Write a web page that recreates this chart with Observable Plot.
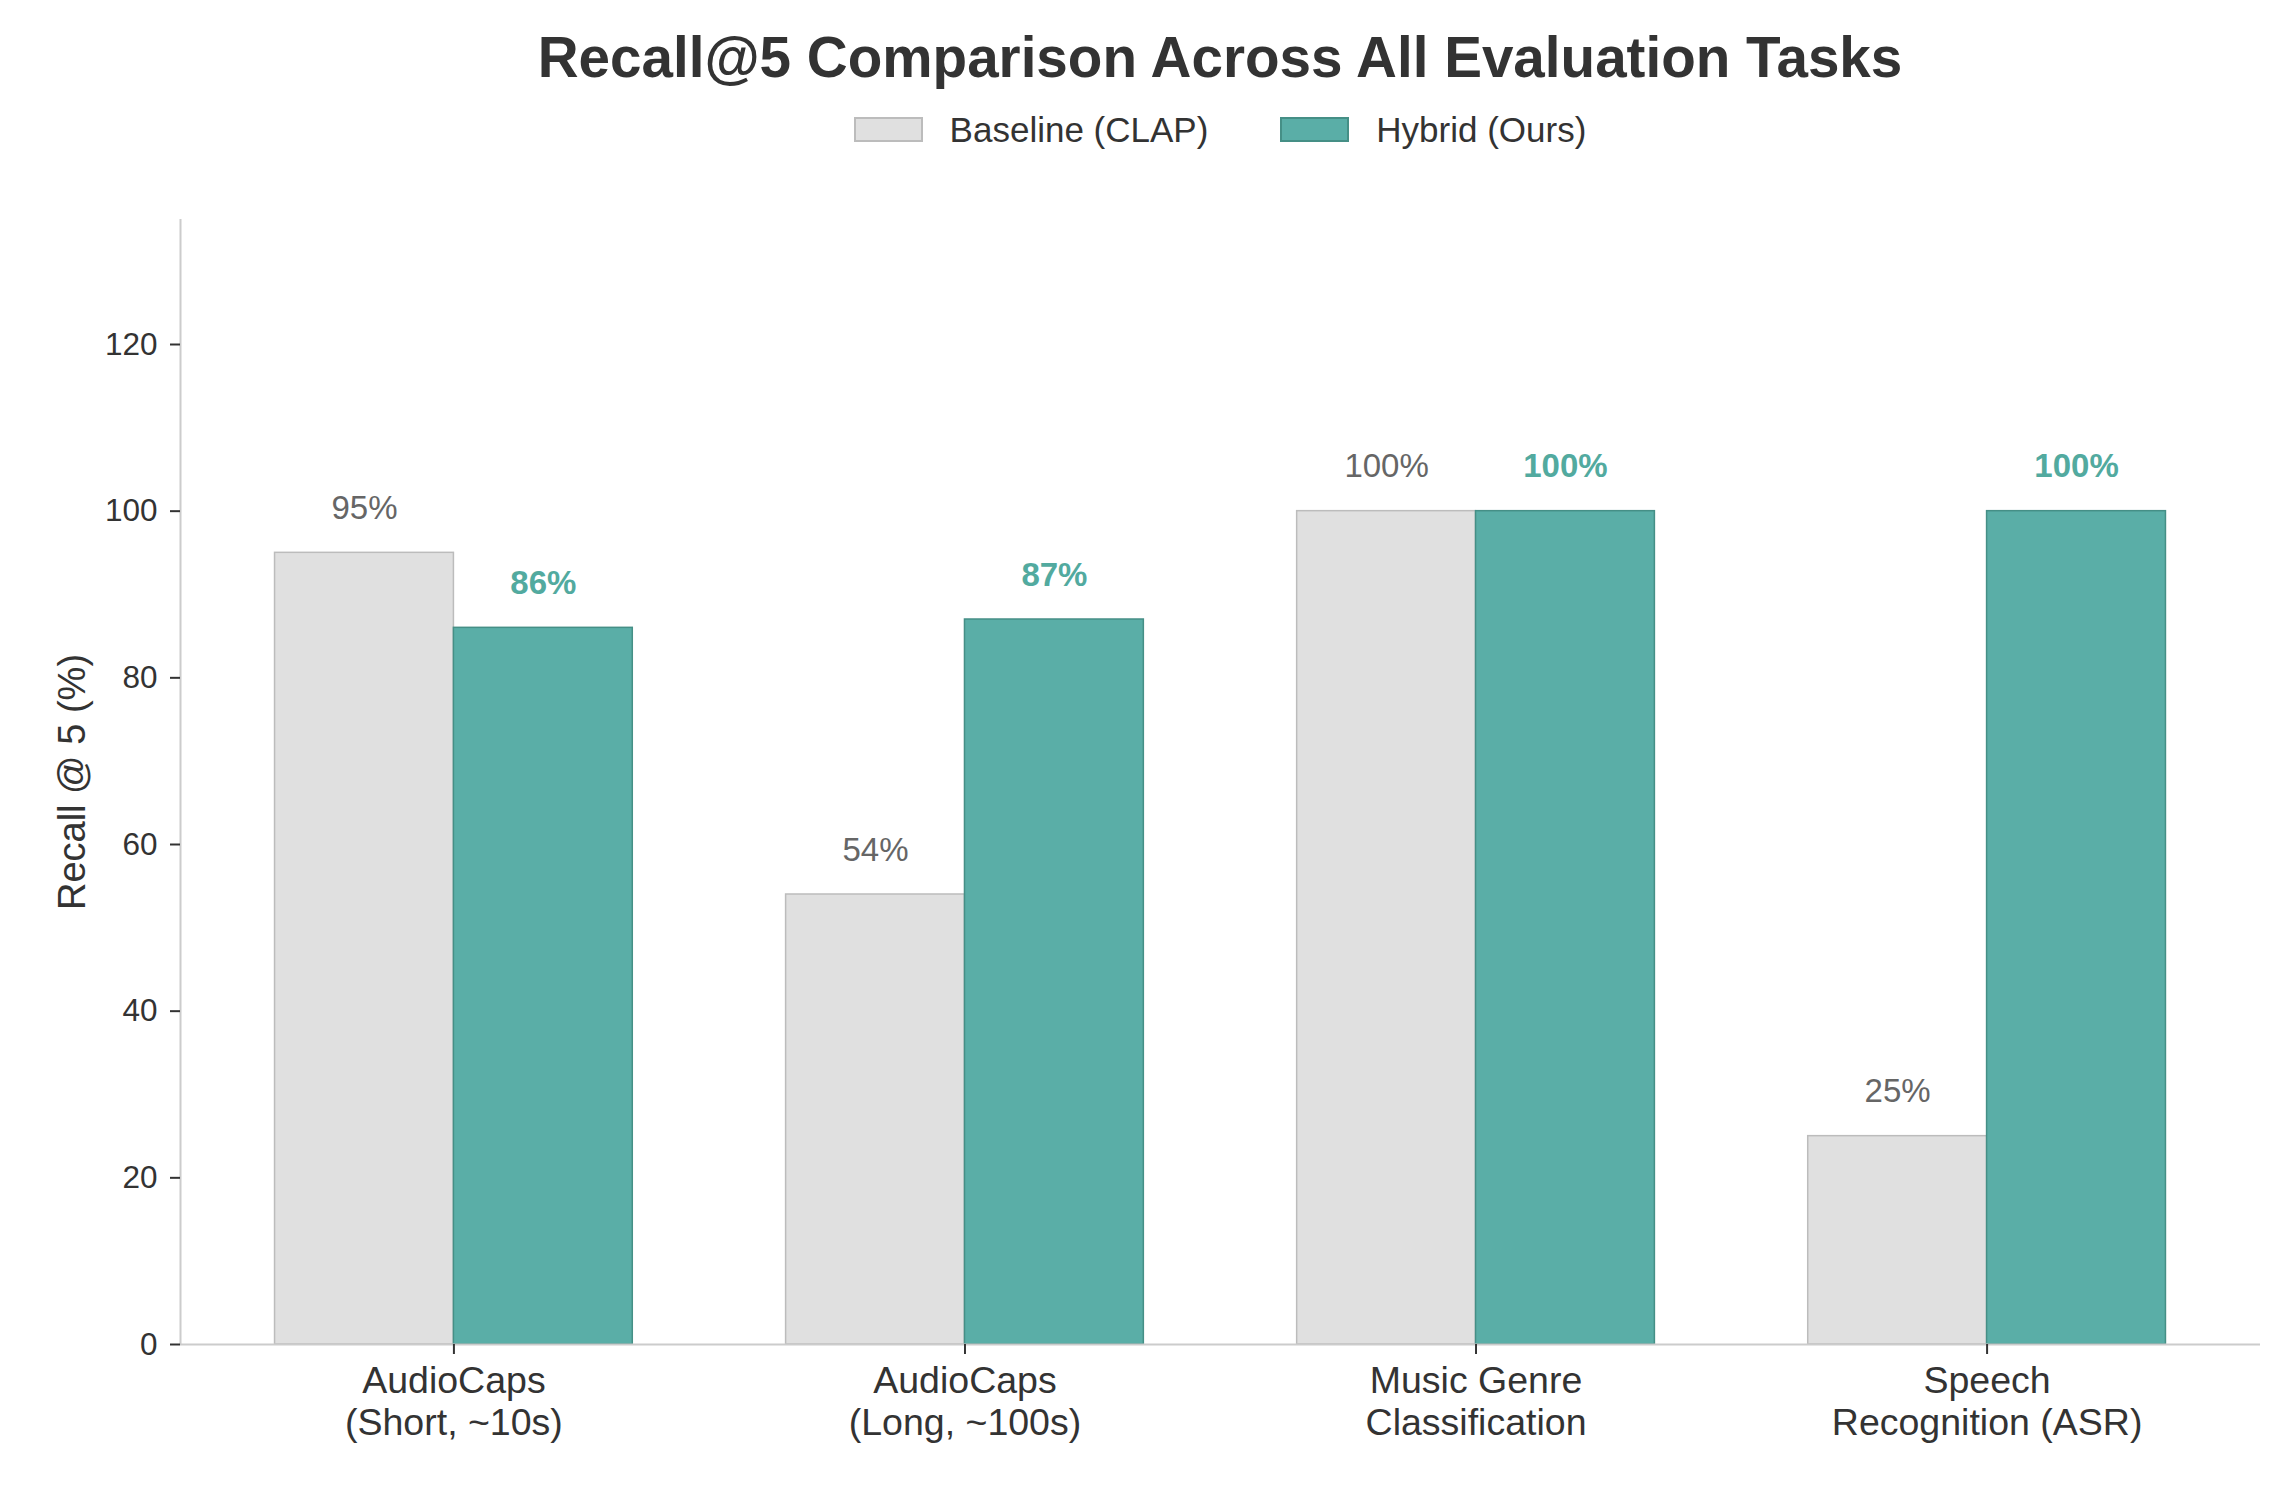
<!DOCTYPE html>
<html>
<head>
<meta charset="utf-8">
<script src="https://cdn.jsdelivr.net/npm/d3@7"></script>
<script src="https://cdn.jsdelivr.net/npm/@observablehq/plot@0.6"></script>
<style>
  html, body { margin: 0; padding: 0; background: #fff; }
  body { width: 2294px; height: 1508px; overflow: hidden; font-family: "Liberation Sans", Arial, sans-serif; }
  #header { position: relative; width: 2294px; height: 180px; }
  #title { position: absolute; left: 146px; right: 0; top: 30px; text-align: center;
           font-size: 56.6px; line-height: 56px; font-weight: bold; color: #333; white-space: nowrap; }
  #legend { position: absolute; left: 146px; right: 0; top: 112px; display: flex; justify-content: center;
            align-items: center; height: 35px; font-size: 35px; line-height: 35px; color: #333; }
  .sw { width: 65px; height: 21px; border: 2px solid; margin-right: 27px; }
  .item { display: flex; align-items: center; }
  .item + .item { margin-left: 72px; }
</style>
</head>
<body>
<div id="header">
  <div id="title"></div>
  <div id="legend"></div>
</div>
<div id="chart"></div>
<script>
// ---- data ----
const categories = [
  "AudioCaps\n(Short, ~10s)",
  "AudioCaps\n(Long, ~100s)",
  "Music Genre\nClassification",
  "Speech\nRecognition (ASR)"
];
const seriesNames = ["Baseline (CLAP)", "Hybrid (Ours)"];
const baselineValues = [95, 54, 100, 25];
const hybridValues = [86, 87, 100, 100];
const yTicks = [0, 20, 40, 60, 80, 100, 120];
const titleText = "Recall@5 Comparison Across All Evaluation Tasks";
const yLabel = "Recall @ 5 (%)";

// ---- styles ----
const baseFill = "#e0e0e0", baseStroke = "#bcbcbc", baseText = "#666666";
const hybFill = "#5aaea7", hybStroke = "#458f86", hybText = "#52aa9f";
const barWidth = 0.35;
const xDomain = [-0.535, 3.535];
const yDomain = [0, 135];

document.getElementById("title").textContent = titleText;
const legend = document.getElementById("legend");
[[seriesNames[0], baseFill, baseStroke], [seriesNames[1], hybFill, hybStroke]].forEach(([name, f, s]) => {
  const item = document.createElement("div");
  item.className = "item";
  const sw = document.createElement("div");
  sw.className = "sw";
  sw.style.background = f;
  sw.style.borderColor = s;
  const t = document.createElement("span");
  t.textContent = name;
  item.appendChild(sw); item.appendChild(t);
  legend.appendChild(item);
});

const baseRows = categories.map((c, i) => ({idx: i, cat: c, value: baselineValues[i]}));
const hybRows = categories.map((c, i) => ({idx: i, cat: c, value: hybridValues[i]}));

const chart = Plot.plot({
  width: 2294,
  height: 1328,
  marginTop: 39,
  marginBottom: 164,
  marginLeft: 180,
  marginRight: 34,
  style: {fontFamily: "'Liberation Sans', Arial, sans-serif", fontSize: "30px", color: "#333", background: "#fff"},
  x: {type: "linear", domain: xDomain},
  y: {domain: yDomain},
  marks: [
    Plot.rectY(baseRows, {x1: d => d.idx - barWidth, x2: d => d.idx, y1: 0, y2: "value",
      fill: baseFill, stroke: baseStroke, strokeWidth: 1.5}),
    Plot.rectY(hybRows, {x1: d => d.idx, x2: d => d.idx + barWidth, y1: 0, y2: "value",
      fill: hybFill, stroke: hybStroke, strokeWidth: 1.5}),
    Plot.ruleY([yDomain[0]], {stroke: "#cccccc", strokeWidth: 2}),
    Plot.ruleX([xDomain[0]], {y1: yDomain[0], y2: yDomain[1], stroke: "#cccccc", strokeWidth: 2}),
    Plot.text(baseRows, {x: d => d.idx - barWidth / 2, y: "value", text: d => `${d.value}%`,
      lineAnchor: "bottom", dy: -34, fontSize: 33, fill: baseText}),
    Plot.text(hybRows, {x: d => d.idx + barWidth / 2, y: "value", text: d => `${d.value}%`,
      lineAnchor: "bottom", dy: -34, fontSize: 33, fontWeight: "bold", fill: hybText}),
    Plot.axisY({ticks: yTicks, tickSize: 10, tickPadding: 13, fontSize: 31.5, label: null,
      stroke: "#333", strokeWidth: 2, fill: "#333"}),
    Plot.axisY({ticks: [], label: yLabel, labelAnchor: "center", labelArrow: "none",
      labelOffset: 122, fontSize: 38, fill: "#333"}),
    Plot.axisX({ticks: categories.map((c, i) => i), tickFormat: i => categories[i], tickSize: 10,
      tickPadding: 9, fontSize: 37.5, lineHeight: 1.12, label: null, stroke: "#333", strokeWidth: 2, fill: "#333"})
  ]
});
document.getElementById("chart").appendChild(chart);
</script>
</body>
</html>
